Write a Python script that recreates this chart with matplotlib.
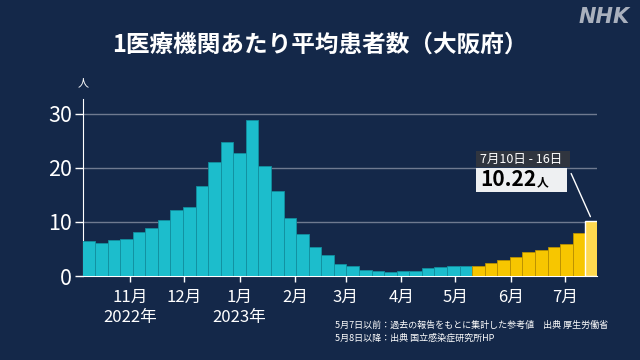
import datetime as dt
import matplotlib
matplotlib.use("Agg")
import matplotlib.pyplot as plt
import matplotlib.dates as mdates

plt.rcParams["font.family"] = ["Noto Sans CJK JP", "DejaVu Sans"]

# weekly averages, weeks ending on these Sundays
first_week_end = dt.date(2022, 10, 9)
n_weeks = 41
week_ends = [first_week_end + dt.timedelta(days=7 * i) for i in range(n_weeks)]

mhlw_values = [
    6.5, 6.2, 6.7, 6.8, 8.1, 8.8, 10.4, 12.2, 12.8, 16.6,
    21.1, 24.8, 22.7, 28.9, 20.3, 15.8, 10.8, 7.7, 5.4, 3.8,
    2.2, 1.9, 1.2, 0.9, 0.8, 0.9, 1.0, 1.5, 1.7, 1.9, 1.9,
]
niid_values = [1.85, 2.5, 3.0, 3.5, 4.5, 4.75, 5.3, 6.0, 8.0, 10.22]

month_ticks = [dt.date(2022, 11, 1), dt.date(2022, 12, 1), dt.date(2023, 1, 1),
               dt.date(2023, 2, 1), dt.date(2023, 3, 1), dt.date(2023, 4, 1),
               dt.date(2023, 5, 1), dt.date(2023, 6, 1), dt.date(2023, 7, 1)]
month_labels = ["11月\n2022年", "12月", "1月\n2023年", "2月", "3月", "4月",
                "5月", "6月", "7月"]

y_ticks = [0, 10, 20, 30]

BG = "#142849"
CYAN = "#1cbdcc"
YELLOW = "#f7c600"
LAST = "#ffd94f"


def px(x, y):
    """pixel position (from top-left) -> figure fraction"""
    return x / 640, 1 - y / 360


fig = plt.figure(figsize=(6.4, 3.6), dpi=100, facecolor=BG)
ax = fig.add_axes([0.1302, 0.2333, 0.8025, 0.4908], facecolor=BG)

n_mhlw = len(mhlw_values)
ax.bar(week_ends[:n_mhlw], mhlw_values, width=7, color=CYAN,
       edgecolor="#128f9f", linewidth=0.6, zorder=3)
ax.bar(week_ends[n_mhlw:-1], niid_values[:-1], width=7, color=YELLOW,
       edgecolor="#b98f00", linewidth=0.6, zorder=3)
ax.bar(week_ends[-1:], niid_values[-1:], width=7, color=LAST,
       edgecolor="white", linewidth=1.0, zorder=4)

ax.set_xlim(first_week_end - dt.timedelta(days=3.6),
            week_ends[-1] + dt.timedelta(days=3.5))
ax.set_ylim(0, 32.7)

ax.set_yticks(y_ticks)
ax.set_yticklabels([str(v) for v in y_ticks])
ax.yaxis.grid(True, color="#6f7a90", linewidth=1.0, zorder=1)
ax.set_xticks([mdates.date2num(d) for d in month_ticks])
ax.set_xticklabels(month_labels, linespacing=1.25)

ax.tick_params(axis="y", colors="white", labelsize=15.5, length=6, width=1, pad=2)
ax.tick_params(axis="x", colors="white", labelsize=12, length=4, width=1, pad=5)

for side in ["top", "right"]:
    ax.spines[side].set_visible(False)
ax.spines["left"].set_color("white")
ax.spines["bottom"].set_color("white")

# unit label
fig.text(*px(83, 83), "人", color="white", fontsize=8, ha="center", va="center")

# title and logo
fig.text(*px(320, 45), "1医療機関あたり平均患者数（大阪府）", color="white",
         fontsize=17, fontweight="bold", ha="center", va="center")
fig.text(*px(630, 17), "NHK", color="#a9b0bd", fontsize=15,
         fontweight="bold", fontstyle="italic", ha="right", va="center",
         family="DejaVu Sans")

# callout for the latest week
fig.patches.append(plt.Rectangle(px(476, 167), 94 / 640, 16 / 360,
                                 transform=fig.transFigure, facecolor="#30353f",
                                 edgecolor="none"))
fig.text(*px(480, 159), "7月10日 - 16日", color="white", fontsize=9,
         ha="left", va="center")
fig.patches.append(plt.Rectangle(px(476, 192), 91 / 640, 24 / 360,
                                 transform=fig.transFigure, facecolor="#eef0f2",
                                 edgecolor="none"))
fig.text(*px(480, 180), "10.22", color="black", fontsize=15,
         fontweight="bold", ha="left", va="center")
fig.text(*px(537, 183), "人", color="black", fontsize=8.5,
         fontweight="bold", ha="left", va="center")
ax.annotate("", xy=(mdates.date2num(week_ends[-1]), niid_values[-1] + 0.3),
            xytext=px(570, 171), textcoords="figure fraction",
            arrowprops=dict(arrowstyle="-", color="white", linewidth=1))

# sources
fig.text(*px(335, 325), "5月7日以前：過去の報告をもとに集計した参考値　出典 厚生労働省",
         color="white", fontsize=6.5, ha="left", va="center")
fig.text(*px(335, 338), "5月8日以降：出典 国立感染症研究所HP",
         color="white", fontsize=6.5, ha="left", va="center")

fig.savefig("out.png", dpi=100, facecolor=BG)
